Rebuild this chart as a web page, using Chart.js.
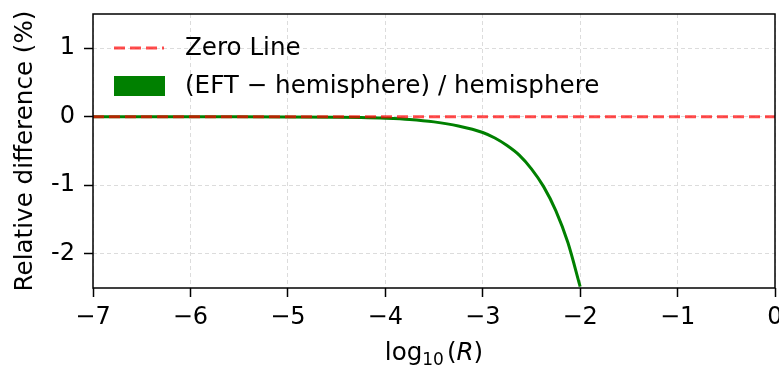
<!DOCTYPE html>
<html lang="en">
  <head>
    <meta charset="UTF-8" />
    <title>Relative difference</title>
    <script src="https://cdn.jsdelivr.net/npm/chart.js@4.4.0/dist/chart.umd.min.js"></script>
    <style>
      html, body { margin: 0; padding: 0; background: #fff; }
      #wrap { width: 779px; height: 368px; }
    </style>
  </head>
  <body>
    <div id="wrap"><canvas id="myChart" width="779" height="368"></canvas></div>
    <script>
      // values
      const logR = [-7, -6.5, -6, -5.5, -5, -4.5, -4.25, -4, -3.75, -3.5, -3.25, -3, -2.875, -2.75, -2.625, -2.5, -2.375, -2.25, -2.125, -2];
      const relDiff = [0, 0, 0, 0, -0.002, -0.007, -0.012, -0.022, -0.04, -0.075, -0.135, -0.23, -0.31, -0.42, -0.56, -0.76, -1.02, -1.37, -1.84, -2.48];
      const zeroX = [-7, 0];
      const zeroY = [0, 0];
      const yTicks = [-2, -1, 0, 1];
      const xTicks = [-7, -6, -5, -4, -3, -2, -1, 0];

      const FONT = "DejaVu Sans";
      const FS = 24;
      const LFS = 24.6;
      const RED = "rgba(255, 0, 0, 0.7)";
      const GREEN = "#008000";

      const framePlugin = {
        id: "frame",
        afterDraw(chart) {
          const c = chart.ctx;
          const a = chart.chartArea;
          c.save();
          c.strokeStyle = "#000";
          c.lineWidth = 1.5;
          c.strokeRect(a.left, a.top, a.right - a.left, a.bottom - a.top);

          // legend
          c.fillStyle = "#000";
          c.font = LFS + "px " + FONT;
          c.textBaseline = "middle";
          c.strokeStyle = RED;
          c.lineWidth = 3;
          c.setLineDash([11, 5]);
          c.beginPath();
          c.moveTo(114, 48);
          c.lineTo(164, 48);
          c.stroke();
          c.setLineDash([]);
          c.fillText("Zero Line", 185, 49);
          c.fillStyle = GREEN;
          c.fillRect(114, 76, 51, 20);
          c.fillStyle = "#000";
          c.fillText("(EFT \u2212 hemisphere) / hemisphere", 185, 87);

          // y title
          c.save();
          c.translate(26, (a.top + a.bottom) / 2);
          c.rotate(-Math.PI / 2);
          c.textAlign = "center";
          c.fillText("Relative difference (%)", 0, 0);
          c.restore();

          // x title: log10(R)
          c.textBaseline = "alphabetic";
          const base = 360;
          const sub = Math.round(LFS * 0.7);
          const p1 = "log";
          const p2 = "10";
          const p3 = "(";
          const p4 = "R";
          const p5 = ")";
          c.font = LFS + "px " + FONT;
          const w1 = c.measureText(p1).width;
          const w3 = c.measureText(p3).width;
          const w5 = c.measureText(p5).width;
          c.font = sub + "px " + FONT;
          const w2 = c.measureText(p2).width;
          c.font = "italic " + LFS + "px " + FONT;
          const w4 = c.measureText(p4).width;
          const total = w1 + w2 + 3 + w3 + w4 + w5;
          let x = (a.left + a.right) / 2 - total / 2;
          c.font = LFS + "px " + FONT;
          c.fillText(p1, x, base); x += w1;
          c.font = sub + "px " + FONT;
          c.fillText(p2, x, base + 5); x += w2 + 3;
          c.font = LFS + "px " + FONT;
          c.fillText(p3, x, base); x += w3;
          c.font = "italic " + LFS + "px " + FONT;
          c.fillText(p4, x, base); x += w4;
          c.font = LFS + "px " + FONT;
          c.fillText(p5, x, base);
          c.restore();
        },
      };

      const gridOpts = {
        color: "#dcdcdc",
        tickBorderDash: [],
        tickColor: "#000",
        tickLength: 9,
        tickWidth: 1.5,
      };

      const ctx = document.getElementById("myChart").getContext("2d");
      const myChart = new Chart(ctx, {
        type: "line",
        data: {
          datasets: [
            {
              label: "Zero Line",
              data: zeroX.map((x, i) => ({ x: x, y: zeroY[i] })),
              borderColor: RED,
              borderWidth: 3,
              borderDash: [11, 5],
              pointRadius: 0,
              order: 0,
            },
            {
              label: "(EFT \u2212 hemisphere) / hemisphere",
              data: logR.map((x, i) => ({ x: x, y: relDiff[i] })),
              borderColor: GREEN,
              borderWidth: 3,
              pointRadius: 0,
              cubicInterpolationMode: "monotone",
              order: 1,
            },
          ],
        },
        options: {
          responsive: false,
          animation: false,
          layout: { padding: { top: 14, right: 4, left: 0, bottom: 0 } },
          plugins: { legend: { display: false }, tooltip: { enabled: false } },
          scales: {
            x: {
              type: "linear",
              min: -7,
              max: 0,
              afterFit(s) {
                s.height = 80;
                s.paddingLeft = 0;
                s.paddingRight = 0;
              },
              afterBuildTicks(s) { s.ticks = xTicks.map((v) => ({ value: v })); },
              grid: gridOpts,
              border: { display: false, dash: [4, 3] },
              ticks: {
                color: "#000",
                font: { family: FONT, size: FS },
                padding: 6,
                maxRotation: 0,
                callback: (v) => (v < 0 ? "\u2212" + Math.abs(v) : String(v)),
              },
            },
            y: {
              type: "linear",
              min: -2.5,
              max: 1.5,
              afterFit(s) {
                s.width = 93;
                s.paddingTop = 0;
                s.paddingBottom = 0;
              },
              afterBuildTicks(s) { s.ticks = yTicks.map((v) => ({ value: v })); },
              grid: gridOpts,
              border: { display: false, dash: [4, 3] },
              ticks: {
                color: "#000",
                font: { family: FONT, size: FS },
                padding: 9,
                callback: (v) => String(v),
              },
            },
          },
        },
        plugins: [framePlugin],
      });
    </script>
  </body>
</html>
